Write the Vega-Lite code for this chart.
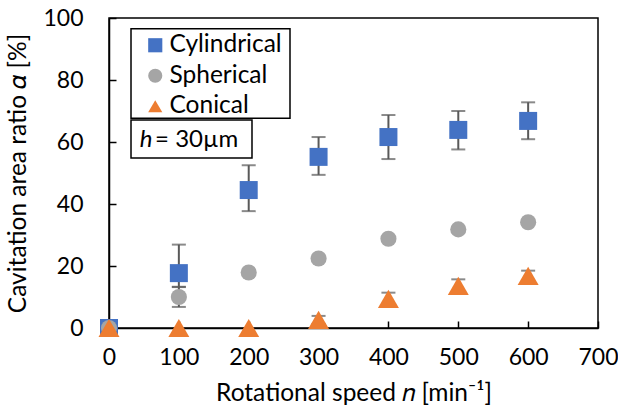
{
  "$schema": "https://vega.github.io/schema/vega-lite/v6.json",
  "width": 489,
  "height": 310,
  "autosize": "none",
  "padding": {"left": 109, "top": 18, "right": 20, "bottom": 84},
  "background": "white",
  "config": {
    "font": "Lato",
    "view": {"stroke": "black", "strokeWidth": 1.5},
    "axis": {
      "domainColor": "black", "domainWidth": 1.5,
      "tickColor": "black", "tickWidth": 1.5, "tickSize": -7,
      "labelFont": "Lato", "labelFontSize": 23, "labelColor": "black", "labelFlush": false,
      "titleFont": "Lato", "titleFontSize": 24.5, "titleColor": "black", "titleFontWeight": "normal",
      "grid": false
    },
    "legend": {"symbolSize": 200}
  },
  "datasets": {
    "pts": [
      {"n": 0, "shape": "Cylindrical", "v": 0},
      {"n": 100, "shape": "Cylindrical", "v": 17.7, "lo": 13.3, "hi": 26.9},
      {"n": 200, "shape": "Cylindrical", "v": 44.5, "lo": 37.7, "hi": 52.5},
      {"n": 300, "shape": "Cylindrical", "v": 55.2, "lo": 49.4, "hi": 61.6},
      {"n": 400, "shape": "Cylindrical", "v": 61.6, "lo": 54.5, "hi": 68.7},
      {"n": 500, "shape": "Cylindrical", "v": 63.9, "lo": 57.6, "hi": 70.0},
      {"n": 600, "shape": "Cylindrical", "v": 66.8, "lo": 60.9, "hi": 72.8},
      {"n": 0, "shape": "Spherical", "v": 0},
      {"n": 100, "shape": "Spherical", "v": 10.0, "lo": 6.8, "hi": 13.2},
      {"n": 200, "shape": "Spherical", "v": 17.9},
      {"n": 300, "shape": "Spherical", "v": 22.4},
      {"n": 400, "shape": "Spherical", "v": 28.8},
      {"n": 500, "shape": "Spherical", "v": 31.8},
      {"n": 600, "shape": "Spherical", "v": 34.1},
      {"n": 0, "shape": "Conical", "v": 0},
      {"n": 100, "shape": "Conical", "v": 0},
      {"n": 200, "shape": "Conical", "v": 0},
      {"n": 300, "shape": "Conical", "v": 2.6, "lo": 1.3, "hi": 3.9},
      {"n": 400, "shape": "Conical", "v": 9.4, "lo": 7.4, "hi": 11.4},
      {"n": 500, "shape": "Conical", "v": 13.6, "lo": 11.5, "hi": 15.7},
      {"n": 600, "shape": "Conical", "v": 16.8, "lo": 15.1, "hi": 18.5}
    ],
    "box": [
      {"x1": 31.5, "x2": 259.1, "y1": 67.7, "y2": 96.5},
      {"x1": 31.5, "x2": 204.7, "y1": 54.8, "y2": 67.1}
    ],
    "lbl": [{"x": 44, "y": 60.6, "t1": "h", "x2": 66, "t2": "= 30µm"}]
  },
  "layer": [
    {
      "data": {"name": "box"},
      "mark": {"type": "rect", "fill": "white", "stroke": "black", "strokeWidth": 1.5},
      "encoding": {
        "x": {"field": "x1", "type": "quantitative", "scale": {"domain": [0, 700]}, "axis": {"values": [0,100,200,300,400,500,600,700], "title": "Rotational speed 𝑛 [min⁻¹]", "labelPadding": 25, "titlePadding": 12}},
        "x2": {"field": "x2"},
        "y": {"field": "y1", "type": "quantitative", "scale": {"domain": [0, 100]}, "axis": {"values": [0,20,40,60,80,100], "title": "Cavitation area ratio 𝛼 [%]", "labelPadding": 33, "titlePadding": 12}},
        "y2": {"field": "y2"}
      }
    },
    {
      "data": {"name": "pts"},
      "transform": [{"filter": "isValid(datum.lo)"}],
      "mark": {"type": "rule", "color": "#595959", "strokeWidth": 2},
      "encoding": {
        "x": {"field": "n", "type": "quantitative"},
        "y": {"field": "lo", "type": "quantitative"},
        "y2": {"field": "hi"}
      }
    },
    {
      "data": {"name": "pts"},
      "transform": [{"filter": "isValid(datum.lo)"}],
      "mark": {"type": "tick", "orient": "horizontal", "color": "#595959", "thickness": 2, "size": 14},
      "encoding": {
        "x": {"field": "n", "type": "quantitative"},
        "y": {"field": "lo", "type": "quantitative"}
      }
    },
    {
      "data": {"name": "pts"},
      "transform": [{"filter": "isValid(datum.hi)"}],
      "mark": {"type": "tick", "orient": "horizontal", "color": "#595959", "thickness": 2, "size": 14},
      "encoding": {
        "x": {"field": "n", "type": "quantitative"},
        "y": {"field": "hi", "type": "quantitative"}
      }
    },
    {
      "data": {"name": "pts"},
      "transform": [{"filter": "datum.shape === 'Cylindrical'"}],
      "mark": {"type": "point", "filled": true, "opacity": 1, "clip": false, "size": 324},
      "encoding": {
        "x": {"field": "n", "type": "quantitative"},
        "y": {"field": "v", "type": "quantitative"},
        "color": {"field": "shape", "type": "nominal", "scale": {"domain": ["Cylindrical", "Spherical", "Conical"], "range": ["#4472C4", "#A5A5A5", "#ED7D31"]},
          "legend": {"title": null, "orient": "none", "legendX": 34, "legendY": 15, "padding": 0, "labelFontSize": 24.5, "labelFont": "Lato", "labelColor": "black", "symbolSize": 200, "rowPadding": 5.5, "labelOffset": 2, "symbolOpacity": 1}},
        "shape": {"field": "shape", "type": "nominal", "scale": {"domain": ["Cylindrical", "Spherical", "Conical"], "range": ["square", "circle", "triangle-up"]}}
      }
    },
    {
      "data": {"name": "pts"},
      "transform": [{"filter": "datum.shape === 'Spherical'"}],
      "mark": {"type": "point", "filled": true, "opacity": 1, "clip": false, "size": 260},
      "encoding": {
        "x": {"field": "n", "type": "quantitative"},
        "y": {"field": "v", "type": "quantitative"},
        "color": {"field": "shape", "type": "nominal"},
        "shape": {"field": "shape", "type": "nominal"}
      }
    },
    {
      "data": {"name": "pts"},
      "transform": [{"filter": "datum.shape === 'Conical'"}],
      "mark": {"type": "point", "filled": true, "opacity": 1, "clip": false, "size": 440},
      "encoding": {
        "x": {"field": "n", "type": "quantitative"},
        "y": {"field": "v", "type": "quantitative"},
        "color": {"field": "shape", "type": "nominal"},
        "shape": {"field": "shape", "type": "nominal"}
      }
    },
    {
      "data": {"name": "lbl"},
      "mark": {"type": "text", "font": "Lato", "fontSize": 24, "fontStyle": "italic", "align": "left", "baseline": "middle", "color": "black"},
      "encoding": {
        "x": {"field": "x", "type": "quantitative"},
        "y": {"field": "y", "type": "quantitative"},
        "text": {"field": "t1"}
      }
    },
    {
      "data": {"name": "lbl"},
      "mark": {"type": "text", "font": "Lato", "fontSize": 24, "align": "left", "baseline": "middle", "color": "black"},
      "encoding": {
        "x": {"field": "x2", "type": "quantitative"},
        "y": {"field": "y", "type": "quantitative"},
        "text": {"field": "t2"}
      }
    }
  ]
}
